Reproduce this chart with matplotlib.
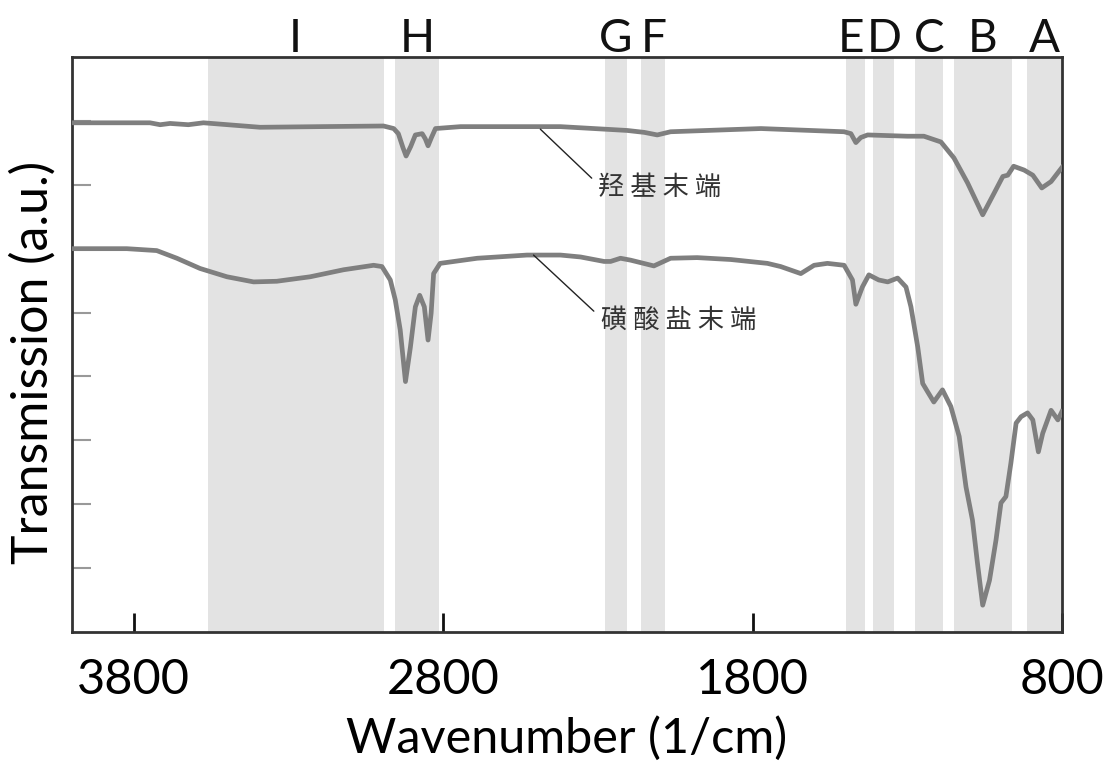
import matplotlib
matplotlib.use('Agg')
import matplotlib.pyplot as plt

plt.rcParams['font.family'] = ['Lato', 'DejaVu Sans']

# shaded assignment bands (wavenumber ranges) and their letters
band_labels = ['I', 'H', 'G', 'F', 'E', 'D', 'C', 'B', 'A']
band_lo = [2993, 2812, 2205, 2083, 1436, 1344, 1185, 962, 800]
band_hi = [3561, 2957, 2278, 2159, 1498, 1410, 1275, 1148, 913]

# hydroxyl-terminated spectrum (offset)
oh_wn = [4000, 3748, 3715, 3683, 3624, 3575, 3392, 3200, 2993, 2960, 2945, 2930,
         2920, 2905, 2890, 2868, 2858, 2849, 2838, 2825, 2744, 2421, 2205, 2150,
         2108, 2065, 1773, 1504, 1482, 1466, 1450, 1428, 1300, 1246, 1191, 1149,
         1105, 1056, 1019, 991, 975, 956, 922, 894, 865, 835, 800]
oh_val = [7.97, 7.97, 7.94, 7.96, 7.94, 7.97, 7.90, 7.91, 7.92, 7.88, 7.80, 7.58,
          7.45, 7.60, 7.78, 7.80, 7.72, 7.61, 7.74, 7.88, 7.91, 7.91, 7.85, 7.82,
          7.78, 7.83, 7.88, 7.83, 7.80, 7.66, 7.74, 7.78, 7.76, 7.76, 7.67, 7.42,
          7.03, 6.53, 6.87, 7.13, 7.15, 7.29, 7.23, 7.15, 6.95, 7.05, 7.27]

# sulfonate-terminated spectrum
so3_wn = [4000, 3823, 3726, 3661, 3586, 3499, 3413, 3338, 3230, 3122, 3025, 2998,
          2971, 2955, 2939, 2922, 2906, 2890, 2876, 2861, 2849, 2839, 2831, 2810,
          2690, 2529, 2421, 2356, 2280, 2259, 2227, 2194, 2119, 2065, 1979, 1870,
          1752, 1709, 1644, 1601, 1558, 1504, 1477, 1466, 1445, 1424, 1392, 1363,
          1331, 1304, 1288, 1266, 1250, 1234, 1214, 1186, 1159, 1132, 1110, 1089,
          1073, 1056, 1034, 1013, 997, 981, 965, 948, 932, 911, 894, 876,
          862, 835, 813, 800]
so3_val = [6.00, 6.00, 5.97, 5.85, 5.69, 5.56, 5.48, 5.49, 5.56, 5.67, 5.74, 5.72,
           5.51, 5.20, 4.73, 3.92, 4.46, 5.09, 5.27, 5.09, 4.57, 4.99, 5.61, 5.77,
           5.85, 5.90, 5.90, 5.87, 5.80, 5.80, 5.85, 5.82, 5.73, 5.85, 5.86, 5.83,
           5.77, 5.72, 5.61, 5.74, 5.77, 5.74, 5.51, 5.13, 5.40, 5.59, 5.51, 5.48,
           5.54, 5.40, 5.09, 4.46, 3.89, 3.76, 3.60, 3.79, 3.53, 3.06, 2.27, 1.75,
           1.08, 0.42, 0.81, 1.44, 2.02, 2.12, 2.64, 3.27, 3.37, 3.43, 3.32, 2.82,
           3.11, 3.47, 3.32, 3.45]

xticks = [3800, 2800, 1800, 800]

fig = plt.figure(figsize=(11.11, 7.66), dpi=100)
ax = fig.add_axes([0.0648, 0.1749, 0.891, 0.7507])

# small nudges so neighbouring letters do not collide
label_shift = {'E': 14, 'D': -2, 'C': 0}
for lab, lo, hi in zip(band_labels, band_lo, band_hi):
    ax.axvspan(lo, hi, color='#e3e3e3', lw=0, zorder=0)
    ax.text((lo + hi) / 2 + label_shift.get(lab, 0), 1.009, lab,
            transform=ax.get_xaxis_transform(),
            ha='center', va='baseline', fontsize=33, color='#111111')

ax.plot(oh_wn, oh_val, color='#7f7f7f', lw=3.4, zorder=3, solid_joinstyle='round')
ax.plot(so3_wn, so3_val, color='#7f7f7f', lw=3.4, zorder=3, solid_joinstyle='round')

cjk = ['Noto Sans CJK SC', 'DejaVu Sans']
ax.annotate('羟 基 末 端', xy=(2486, 7.87), xytext=(2298, 6.96),
            fontsize=19, color='#333333', va='center', ha='left', family=cjk,
            arrowprops=dict(arrowstyle='-', color='#222222', lw=1,
                            relpos=(0, 0.6), shrinkA=4, shrinkB=0))
ax.annotate('磺 酸 盐 末 端', xy=(2508, 5.90), xytext=(2291, 4.88),
            fontsize=19, color='#333333', va='center', ha='left', family=cjk,
            arrowprops=dict(arrowstyle='-', color='#222222', lw=1,
                            relpos=(0, 0.6), shrinkA=4, shrinkB=0))

ax.set_xlim(4000, 800)
ax.set_ylim(0, 9)
ax.set_xticks(xticks)
ax.set_xticklabels([str(t) for t in xticks])
ax.set_yticks(range(1, 9))
ax.set_yticklabels([])
ax.tick_params(axis='x', direction='in', length=14, width=2, color='#111111',
               labelsize=35, pad=19)
ax.tick_params(axis='y', direction='in', length=14, width=1.5, color='#999999')

for side in ['left', 'right', 'top', 'bottom']:
    ax.spines[side].set_linewidth(2)
    ax.spines[side].set_color('#333333')

ax.set_xlabel('Wavenumber (1/cm)', fontsize=35, labelpad=10)
ax.set_ylabel('Transmission (a.u.)', fontsize=36)
ax.yaxis.set_label_coords(-0.016, 0.468)

fig.savefig('out.png', dpi=100)
